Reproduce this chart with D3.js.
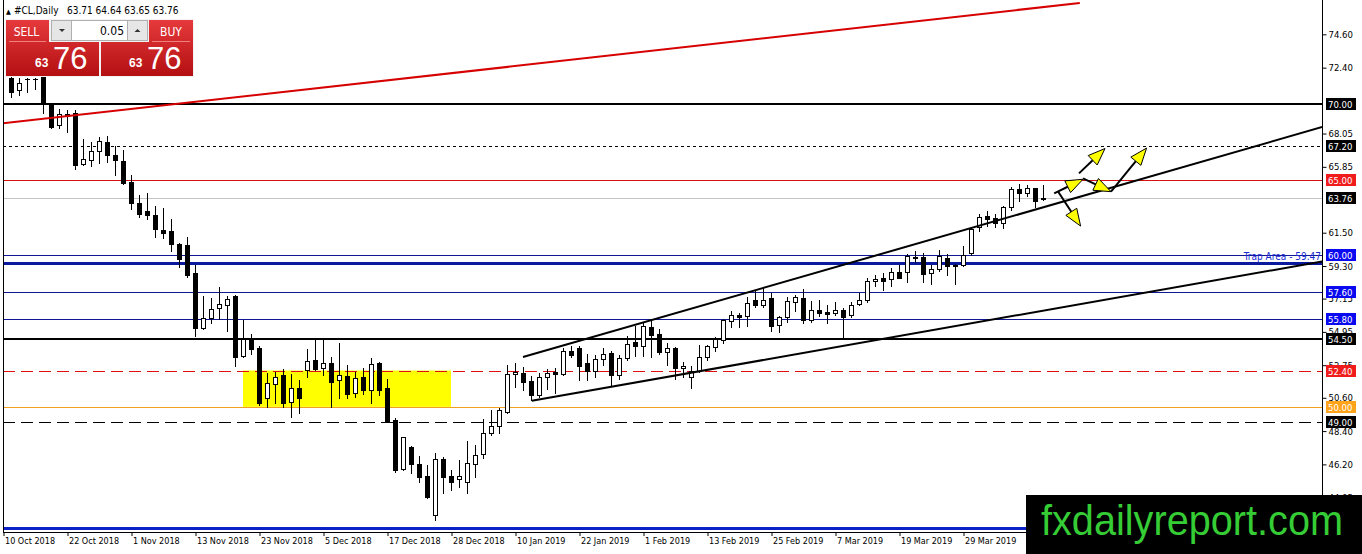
<!DOCTYPE html>
<html><head><meta charset="utf-8">
<script src="https://cdn.jsdelivr.net/npm/d3@7"></script>
<style>html,body{margin:0;padding:0;background:#fff;overflow:hidden}svg{display:block}</style>
</head><body>
<svg id="c" width="1362" height="554"></svg>
<script>
// ---------------- data ----------------
const symbolName = "#CL,Daily";
const headerValues = ["63.71", "64.64", "63.65", "63.76"];
const lotSize = "0.05";
const bidBig = ["63", "76"];
const askBig = ["63", "76"];
const dateLabels = ["10 Oct 2018","22 Oct 2018","1 Nov 2018","13 Nov 2018","23 Nov 2018","5 Dec 2018","17 Dec 2018","28 Dec 2018","10 Jan 2019","22 Jan 2019","1 Feb 2019","13 Feb 2019","25 Feb 2019","7 Mar 2019","19 Mar 2019","29 Mar 2019"];
const barsPerLabel = 8;
const open  = [71.70,70.92,71.62,71.62,71.80,69.93,68.61,69.34,69.43,66.06,66.30,66.90,67.49,66.61,66.24,64.83,63.44,62.93,62.67,61.68,61.61,60.73,60.69,58.82,55.19,55.89,56.51,56.71,57.32,53.36,54.57,53.86,50.56,51.49,52.10,50.30,51.22,52.43,53.09,52.54,52.87,51.75,52.04,50.89,51.95,51.11,52.87,51.22,49.13,45.87,47.33,46.22,45.43,42.85,46.53,45.43,45.21,45.05,46.20,46.88,48.25,48.73,49.68,52.17,52.26,51.73,50.78,51.95,52.30,52.17,53.71,53.87,52.92,52.39,53.14,53.58,52.10,53.20,54.31,54.02,55.25,54.81,53.65,53.87,52.54,51.99,52.39,53.31,53.93,54.41,55.69,56.06,56.00,57.05,56.73,57.16,55.40,55.91,56.95,57.16,55.73,56.40,56.29,56.18,56.40,56.06,56.79,57.05,58.33,58.49,58.42,58.93,58.89,59.92,59.92,58.82,59.08,59.81,59.30,59.37,60.14,61.86,62.60,62.45,62.17,63.22,64.36,64.15,64.43,63.71];
const high  = [72.00,71.70,71.70,71.70,72.10,70.00,69.70,69.60,69.60,67.69,67.51,67.80,67.89,67.23,66.96,65.31,63.99,64.10,63.28,63.15,62.39,60.80,61.24,59.40,57.32,57.17,57.89,57.32,57.38,55.73,54.81,54.02,52.21,52.32,52.48,52.17,51.77,53.80,54.46,54.46,53.27,54.24,52.76,52.32,52.54,53.20,52.98,51.82,49.24,48.03,47.41,46.75,46.16,46.93,46.71,45.83,46.49,47.77,47.48,49.17,49.79,49.90,52.76,52.87,52.65,52.04,52.26,52.48,52.54,53.87,54.02,54.02,53.49,53.42,53.87,53.71,53.42,54.68,55.34,55.56,55.78,55.12,54.20,53.98,52.98,52.70,54.09,54.10,54.63,55.80,56.35,56.22,57.28,57.71,57.83,57.54,56.00,57.28,57.38,57.76,57.00,57.05,56.73,56.95,56.51,56.95,57.49,58.49,58.71,58.86,59.15,59.37,60.09,60.31,60.14,59.37,60.36,60.09,59.42,60.62,61.86,62.73,62.95,62.73,63.26,64.50,64.72,64.65,64.43,64.64];
const low   = [70.47,70.59,70.77,70.97,69.40,68.40,68.44,68.17,65.69,65.95,65.90,66.13,66.20,65.30,64.72,63.04,62.56,62.39,61.24,61.13,60.31,59.25,58.60,54.70,55.12,55.52,55.78,55.03,52.72,53.27,53.49,50.12,50.01,50.27,50.01,49.35,49.62,52.00,52.43,52.10,50.01,50.56,50.56,50.67,50.85,50.27,50.78,49.02,45.72,45.83,45.65,45.05,43.96,42.52,44.33,44.50,44.69,44.33,45.34,46.60,48.14,48.25,49.57,51.33,51.11,50.45,50.67,51.16,50.93,52.10,53.27,51.77,51.77,51.99,52.76,51.37,51.82,53.09,53.36,53.36,53.27,53.49,52.76,51.82,51.99,51.22,52.30,53.10,53.70,54.20,55.25,55.25,55.34,56.61,56.58,55.03,54.97,55.62,56.35,55.52,55.60,56.00,55.52,56.06,54.53,55.95,56.73,56.95,57.98,57.71,57.98,58.49,58.27,59.59,58.27,58.11,58.99,58.71,58.11,59.30,60.03,61.63,61.94,61.86,61.80,63.00,63.62,63.92,63.22,63.65];
const close = [70.81,71.41,71.66,71.66,70.00,68.50,69.34,69.20,65.97,66.37,66.92,67.56,66.61,66.28,64.76,63.44,62.73,62.65,61.72,61.50,60.73,59.74,58.71,55.19,55.89,56.44,56.77,57.10,53.27,54.46,53.80,50.27,51.55,51.99,50.24,51.22,50.56,53.05,52.50,52.87,51.66,52.08,50.85,51.88,51.11,52.82,51.11,49.08,45.83,47.99,46.20,45.34,44.02,46.53,45.34,45.05,45.43,46.27,46.82,48.25,48.73,49.79,52.17,52.32,51.66,50.78,51.95,52.26,52.15,53.71,53.43,52.70,52.39,53.14,53.49,52.10,53.20,54.15,54.02,55.34,54.74,53.65,53.87,52.54,52.70,52.39,53.31,54.00,54.46,55.73,56.06,55.95,56.88,56.73,57.05,55.34,55.91,57.01,57.23,55.73,56.40,56.22,56.13,56.40,55.95,56.73,57.05,58.33,58.42,58.33,58.93,58.53,59.98,59.81,58.77,59.08,59.98,59.30,59.37,60.03,61.72,62.52,62.43,62.17,63.18,64.36,64.15,64.43,63.62,63.76];
const priceTicks = [74.60,72.40,68.05,65.85,61.50,59.30,57.15,54.95,52.75,50.60,48.40,46.20,44.05];
const levelValues = [70.00,67.20,65.00,63.76,60.00,57.60,55.80,54.50,52.40,50.00,49.00];
const trapLevel = 59.47;
const trapText = "Trap Area - 59.47";
const floorLevel = 42.00;
const zoneBars = [30, 56];
const zonePrices = [52.40, 50.00];
const redTrendBars = [0, 134.6], redTrendPrices = [68.73, 76.67];
const upperChannelBars = [65, 164.9], upperChannelPrices = [53.29, 68.48];
const lowerChannelBars = [66.1, 164.9], lowerChannelPrices = [50.40, 59.60];
// arrows: start (bar, price) -> tip (bar, price)
const arrowStartBars = [131.4,131.9,134.5,135.0,138.5];
const arrowStartPrices = [64.10,64.21,65.42,65.09,64.21];
const arrowTipBars = [135.0,134.7,137.75,138.5,142.95];
const arrowTipPrices = [65.03,61.94,67.06,64.21,67.09];
const watermark = "fxdailyreport.com";

// ---------------- layout / styles ----------------
const W = 1362, H = 554;
const XL = 3, XR = 1322, YB = 532;
const FONT = "'DejaVu Sans Condensed','Liberation Sans Narrow','Liberation Sans',sans-serif";
const x = d3.scaleLinear().domain([0, 1]).range([3, 11]);
const y = d3.scaleLinear().domain([49, 70]).range([422, 104]);
const levelStyle = {
  "70": {c:"#000", w:2, dash:null, box:"#000"},
  "67.2": {c:"#000", w:1, dash:"3,3", box:"#000"},
  "65": {c:"#d41010", w:1, dash:null, box:"#f01c1c"},
  "63.76": {c:"#c4c4c4", w:1, dash:null, box:"#000"},
  "60": {c:"#101896", w:1, dash:null, box:"#0a0af0"},
  "57.6": {c:"#101896", w:1, dash:null, box:"#0a0af0"},
  "55.8": {c:"#101896", w:1, dash:null, box:"#0a0af0"},
  "54.5": {c:"#000", w:2, dash:null, box:"#000"},
  "52.4": {c:"#e01010", w:1, dash:"12,6", box:"#f01c1c"},
  "50": {c:"#f0a020", w:1, dash:null, box:"#ffa31a"},
  "49": {c:"#000", w:1, dash:"12,6", box:"#000"}
};

const svg = d3.select("#c");
const defs = svg.append("defs");
const grad = defs.append("linearGradient").attr("id","red").attr("x1",0).attr("y1",0).attr("x2",0).attr("y2",1);
grad.append("stop").attr("offset","0%").attr("stop-color","#e63a3c");
grad.append("stop").attr("offset","100%").attr("stop-color","#b30f12");
defs.append("clipPath").attr("id","plot").append("rect").attr("x",XL).attr("y",0).attr("width",XR-XL).attr("height",YB);

svg.append("rect").attr("width",W).attr("height",H).attr("fill","#fff");
const plot = svg.append("g").attr("clip-path","url(#plot)");

// yellow zone
plot.append("rect")
  .attr("x", x(zoneBars[0])).attr("y", y(zonePrices[0]))
  .attr("width", x(zoneBars[1]) - x(zoneBars[0]))
  .attr("height", y(zonePrices[1]) - y(zonePrices[0]))
  .attr("fill", "#ffff00");

// horizontal levels
const hl = (p, c, w, dash) => plot.append("line")
  .attr("x1", XL).attr("x2", XR)
  .attr("y1", Math.round(y(p)) + (w % 2 ? 0.5 : 0)).attr("y2", Math.round(y(p)) + (w % 2 ? 0.5 : 0))
  .attr("stroke", c).attr("stroke-width", w).attr("stroke-dasharray", dash);
levelValues.forEach(p => { const s = levelStyle[String(p)]; hl(p, s.c, s.w, s.dash); });
hl(trapLevel, "#0a1a9e", 3, null);
hl(floorLevel, "#0b22c8", 3, null);

// candles
const bars = open.map((o, i) => ({i: i + 1, o, h: high[i], l: low[i], c: close[i]}));
const cg = plot.append("g");
cg.selectAll("line.w").data(bars).join("line")
  .attr("x1", d => x(d.i) + 0.5).attr("x2", d => x(d.i) + 0.5)
  .attr("y1", d => Math.round(y(d.h))).attr("y2", d => Math.round(y(d.l)) + 1)
  .attr("stroke", "#000").attr("stroke-width", 1);
cg.selectAll("rect.b").data(bars).join("rect")
  .attr("x", d => d.c >= d.o ? x(d.i) - 1.5 : x(d.i) - 2)
  .attr("width", d => d.c >= d.o ? 4 : 5)
  .attr("y", d => { const t = Math.round(y(Math.max(d.o, d.c))); return d.c >= d.o ? t + 0.5 : t; })
  .attr("height", d => { const t = Math.round(y(Math.max(d.o, d.c))), b = Math.round(y(Math.min(d.o, d.c))); return Math.max(d.c >= d.o ? 0.01 : 1, b - t + (d.c >= d.o ? 0 : 1)); })
  .attr("fill", d => d.c >= d.o ? "#fff" : "#000")
  .attr("stroke", d => d.c >= d.o ? "#000" : "none").attr("stroke-width", 1);

// trend lines
const seg = (bs, ps, c, w) => plot.append("line")
  .attr("x1", x(bs[0])).attr("y1", y(ps[0])).attr("x2", x(bs[1])).attr("y2", y(ps[1]))
  .attr("stroke", c).attr("stroke-width", w);
seg(redTrendBars, redTrendPrices, "#d60000", 2);
seg(upperChannelBars, upperChannelPrices, "#000", 2);
seg(lowerChannelBars, lowerChannelPrices, "#000", 2);

// arrows
const ag = svg.append("g");
arrowStartBars.forEach((sb, k) => {
  const x0 = x(sb), y0 = y(arrowStartPrices[k]), x1 = x(arrowTipBars[k]), y1 = y(arrowTipPrices[k]);
  const dx = x1 - x0, dy = y1 - y0, L = Math.hypot(dx, dy), ux = dx / L, uy = dy / L;
  const hl2 = 17, hw = 6.5;
  const bx = x1 - ux * hl2, by = y1 - uy * hl2;
  ag.append("line").attr("x1", x0).attr("y1", y0).attr("x2", bx).attr("y2", by).attr("stroke", "#000").attr("stroke-width", 2);
  ag.append("path").attr("d", `M${x1},${y1}L${bx - uy * hw},${by + ux * hw}L${bx + uy * hw},${by - ux * hw}Z`)
    .attr("fill", "#ffff00").attr("stroke", "#000").attr("stroke-width", 1);
});

// frame
svg.append("line").attr("x1", XL + 0.5).attr("x2", XL + 0.5).attr("y1", 0).attr("y2", YB).attr("stroke", "#000");
svg.append("line").attr("x1", XR + 0.5).attr("x2", XR + 0.5).attr("y1", 0).attr("y2", YB + 1).attr("stroke", "#000");
svg.append("line").attr("x1", XL).attr("x2", XR + 1).attr("y1", YB + 0.5).attr("y2", YB + 0.5).attr("stroke", "#000");

// price axis
const yAxis = d3.axisRight(y).tickValues(priceTicks).tickSize(4).tickPadding(2).tickFormat(d3.format(".2f"));
const ya = svg.append("g").attr("transform", `translate(${XR + 0.5},0)`).call(yAxis);
ya.select(".domain").remove();
ya.selectAll("line").attr("stroke", "#000");
ya.selectAll("text").attr("font-family", FONT).attr("font-size", 9.5).attr("fill", "#000");

// level boxes
const bg = svg.append("g");
levelValues.forEach(p => {
  const s = levelStyle[String(p)], yy = Math.round(y(p));
  bg.append("rect").attr("x", XR + 4).attr("y", yy - 6).attr("width", 30).attr("height", 12).attr("fill", s.box);
  bg.append("text").attr("x", XR + 6).attr("y", yy + 3.5).attr("font-family", FONT).attr("font-size", 9.5)
    .attr("fill", "#fff").text(d3.format(".2f")(p));
});
svg.append("text").attr("x", XR - 1).attr("y", Math.round(y(trapLevel)) - 3).attr("text-anchor", "end")
  .attr("font-family", FONT).attr("font-size", 10).attr("fill", "#1a2ad0").text(trapText);

// date axis
const tickBars = dateLabels.map((d, k) => k * barsPerLabel);
const xAxis = d3.axisBottom(x).tickValues(tickBars).tickSize(4).tickFormat((d, k) => dateLabels[k]);
const xa = svg.append("g").attr("transform", `translate(0.5,${YB})`).call(xAxis);
xa.select(".domain").remove();
xa.selectAll("line").attr("stroke", "#000");
xa.selectAll("text").attr("font-family", FONT).attr("font-size", 9).attr("fill", "#000")
  .attr("text-anchor", "start").attr("x", 1).attr("y", 6).attr("dy", "0.71em");

// watermark
svg.append("rect").attr("x", 1026).attr("y", 495).attr("width", W - 1026).attr("height", H - 495).attr("fill", "#000");
svg.append("text").attr("x", 1041).attr("y", 535).attr("font-family", "'Liberation Sans',Arial,sans-serif")
  .attr("font-size", 42).attr("fill", "#35cc35").attr("textLength", 302).attr("lengthAdjust", "spacingAndGlyphs").text(watermark);

// header + trade panel
const tp = svg.append("g");
tp.append("text").attr("x", 6).attr("y", 14).attr("font-family", FONT).attr("font-size", 7).attr("fill", "#000").text("▲");
tp.append("text").attr("x", 14).attr("y", 14).attr("font-family", FONT).attr("font-size", 10).attr("fill", "#000").text(symbolName);
tp.append("text").attr("x", 67).attr("y", 14).attr("font-family", FONT).attr("font-size", 10).attr("fill", "#000").text(headerValues.join(" "));
tp.append("rect").attr("x", 5).attr("y", 19).attr("width", 189).attr("height", 58).attr("fill", "#f2f2f2");
tp.append("rect").attr("x", 6).attr("y", 20).attr("width", 93).attr("height", 56).attr("fill", "url(#red)");
tp.append("rect").attr("x", 101).attr("y", 20).attr("width", 92).attr("height", 56).attr("fill", "url(#red)");
tp.append("rect").attr("x", 49).attr("y", 19).attr("width", 100).attr("height", 23).attr("fill", "#f2f2f2");
tp.append("line").attr("x1", 9).attr("x2", 46).attr("y1", 41.5).attr("y2", 41.5).attr("stroke", "#f08080");
tp.append("line").attr("x1", 152).attr("x2", 190).attr("y1", 41.5).attr("y2", 41.5).attr("stroke", "#f08080");
tp.append("rect").attr("x", 51.5).attr("y", 20.5).attr("width", 20).attr("height", 20).attr("fill", "#e6e6e6").attr("stroke", "#b0b0b0");
tp.append("rect").attr("x", 71.5).attr("y", 20.5).attr("width", 56).attr("height", 20).attr("fill", "#fff").attr("stroke", "#b0b0b0");
tp.append("rect").attr("x", 127.5).attr("y", 20.5).attr("width", 20).attr("height", 20).attr("fill", "#e6e6e6").attr("stroke", "#b0b0b0");
tp.append("path").attr("d", "M59,29L65,29L62,32Z").attr("fill", "#333");
tp.append("path").attr("d", "M134.5,32L140.5,32L137.5,29Z").attr("fill", "#333");
tp.append("text").attr("x", 124).attr("y", 35).attr("text-anchor", "end").attr("font-family", FONT).attr("font-size", 12).attr("fill", "#000").text(lotSize);
tp.append("text").attr("x", 26.5).attr("y", 35.5).attr("text-anchor", "middle").attr("font-family", FONT).attr("font-size", 12).attr("fill", "#fff").text("SELL");
tp.append("text").attr("x", 171).attr("y", 35.5).attr("text-anchor", "middle").attr("font-family", FONT).attr("font-size", 12).attr("fill", "#fff").text("BUY");
[[35, 53, bidBig], [129, 147, askBig]].forEach(([sx, bx, v]) => {
  tp.append("text").attr("x", sx).attr("y", 67).attr("font-family", "'Liberation Sans',sans-serif").attr("font-weight", "bold")
    .attr("font-size", 12).attr("fill", "#fff").text(v[0]);
  tp.append("text").attr("x", bx).attr("y", 69).attr("font-family", "'Liberation Sans',sans-serif")
    .attr("font-size", 31).attr("fill", "#fff").text(v[1]);
});
</script>
</body></html>
